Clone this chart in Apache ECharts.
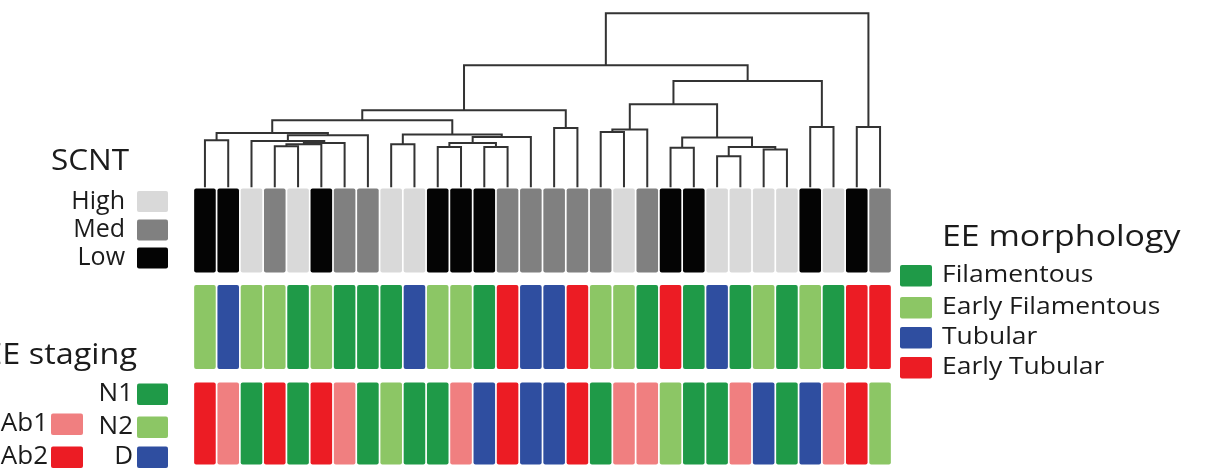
<!DOCTYPE html>
<html>
<head>
<meta charset="utf-8">
<script src="https://cdn.jsdelivr.net/npm/echarts@6/dist/echarts.min.js"></script>
<style>
html,body{margin:0;padding:0;background:#fff;}
#chart{width:1208px;height:473px;}
</style>
</head>
<body>
<div id="chart"></div>
<script>
// ---- DATA ----
const rowNames = ['SCNT', 'EE morphology', 'EE staging'];

const scnt = ['Low','Low','High','Med','High','Low','Med','Med','High','High',
  'Low','Low','Low','Med','Med','Med','Med','Med','High','Med',
  'Low','Low','High','High','High','High','Low','High','Low','Med'];

const morphology = ['Early Filamentous','Tubular','Early Filamentous','Early Filamentous','Filamentous',
  'Early Filamentous','Filamentous','Filamentous','Filamentous','Tubular',
  'Early Filamentous','Early Filamentous','Filamentous','Early Tubular','Tubular',
  'Tubular','Early Tubular','Early Filamentous','Early Filamentous','Filamentous',
  'Early Tubular','Filamentous','Tubular','Filamentous','Early Filamentous',
  'Filamentous','Early Filamentous','Filamentous','Early Tubular','Early Tubular'];

const staging = ['Ab2','Ab1','N1','Ab2','N1','Ab2','Ab1','N1','N2','N1',
  'N1','Ab1','D','Ab2','D','D','Ab2','N1','Ab1','Ab1',
  'N2','N1','N1','Ab1','D','N1','D','Ab1','Ab2','N2'];

// Hierarchical clustering merges: [childA, childB, height]; leaves 0..29, merge k -> node id 30+k
const merges = [
  [3, 4, 23.6],    // 30
  [30, 5, 24.7],   // 31
  [31, 6, 25.5],   // 32
  [2, 32, 26.6],   // 33
  [33, 7, 29.9],   // 34
  [0, 1, 27.0],    // 35
  [35, 34, 31.2],  // 36
  [8, 9, 24.7],    // 37
  [10, 11, 23.2],  // 38
  [12, 13, 23.2],  // 39
  [38, 39, 25.5],  // 40
  [40, 14, 28.9],  // 41
  [37, 41, 30.3],  // 42
  [36, 42, 38.5],  // 43
  [15, 16, 34.1],  // 44
  [43, 44, 44.3],  // 45
  [17, 18, 31.8],  // 46
  [46, 19, 33.2],  // 47
  [20, 21, 22.8],  // 48
  [22, 23, 17.8],  // 49
  [24, 25, 21.7],  // 50
  [49, 50, 23.2],  // 51
  [48, 51, 28.6],  // 52
  [47, 52, 47.7],  // 53
  [26, 27, 34.7],  // 54
  [53, 54, 61.1],  // 55
  [45, 55, 70.1],  // 56
  [28, 29, 34.7],  // 57
  [56, 57, 100]    // 58
];

const scntLevels = ['High', 'Med', 'Low'];
const morphLevels = ['Filamentous', 'Early Filamentous', 'Tubular', 'Early Tubular'];
const stagingRight = ['N1', 'N2', 'D'];
const stagingLeft = ['Ab1', 'Ab2'];

// ---- STYLE ----
const scntColors = { High: '#d9d9d9', Med: '#808080', Low: '#040404' };
const morphColors = { 'Filamentous': '#1f9a48', 'Early Filamentous': '#8cc665', 'Tubular': '#2f4ea0', 'Early Tubular': '#ec1c24' };
const stagingColors = { N1: '#1f9a48', N2: '#8cc665', D: '#2f4ea0', Ab1: '#f07f80', Ab2: '#ec1c24' };
const FONT = '"Open Sans", sans-serif';
const TXT = '#1b1b1b';

// ---- BUILD ----
const nLeaves = scnt.length;
const nodeX = [], nodeH = [];
for (let i = 0; i < nLeaves; i++) { nodeX[i] = i + 0.5; nodeH[i] = 0; }
const dendroData = merges.map((m, k) => {
  const [a, b, h] = m;
  const id = nLeaves + k;
  nodeX[id] = (nodeX[a] + nodeX[b]) / 2;
  nodeH[id] = h;
  return [nodeX[a], nodeH[a], nodeX[b], nodeH[b], h];
});

const cellData = [];
[[scnt, scntColors], [morphology, morphColors], [staging, stagingColors]].forEach((pair, r) => {
  pair[0].forEach((v, i) => {
    cellData.push({ value: [i, r, v], itemStyle: { color: pair[1][v] } });
  });
});

function rect(x, y, w, h, color) {
  return { type: 'rect', shape: { x: x, y: y, width: w, height: h, r: 2 }, style: { fill: color } };
}
function text(str, x, y, size, align, sx) {
  return { type: 'text', x: x, y: y, scaleX: sx || 1, originX: 0,
    style: { text: str, font: size + 'px ' + FONT, fill: TXT, textAlign: align, textVerticalAlign: 'middle' } };
}

const graphics = [];
// SCNT legend
graphics.push(text('SCNT', 90, 161, 30, 'center', 1.05));
const scntY = [191, 219.5, 247.5];
scntLevels.forEach((lv, k) => {
  graphics.push(rect(137, scntY[k], 31, 21, scntColors[lv]));
  graphics.push(text(lv, 125, scntY[k] + 10.5, 25, 'right'));
});
// EE staging legend
graphics.push(text('EE staging', 137, 355, 30, 'right', 1.08));
const stR = [383.5, 416.5, 446.5];
stagingRight.forEach((lv, k) => {
  graphics.push(rect(137, stR[k], 31, 21.5, stagingColors[lv]));
  graphics.push(text(lv, 133, stR[k] + 10.5, 26, 'right'));
});
const stL = [413.5, 446.5];
stagingLeft.forEach((lv, k) => {
  graphics.push(rect(51, stL[k], 32, 21.5, stagingColors[lv]));
  graphics.push(text(lv, 48, stL[k] + 10.5, 26, 'right'));
});
// EE morphology legend
graphics.push(text('EE morphology', 942, 237, 30, 'left', 1.13));
const moY = [265, 297, 327, 357];
morphLevels.forEach((lv, k) => {
  graphics.push(rect(900, moY[k], 32, 21.5, morphColors[lv]));
  graphics.push(text(lv, 942, moY[k] + 10.5, 23, 'left', 1.15));
});

const chart = echarts.init(document.getElementById('chart'), null, { renderer: 'canvas' });
chart.setOption({
  animation: false,
  backgroundColor: '#ffffff',
  grid: [
    { left: 193.3, top: 13.3, width: 698.4, height: 174 },
    { left: 193.3, top: 182.25, width: 698.4, height: 289.5 }
  ],
  xAxis: [
    { gridIndex: 0, type: 'value', min: 0, max: nLeaves, show: false },
    { gridIndex: 1, type: 'value', min: 0, max: nLeaves, show: false }
  ],
  yAxis: [
    { gridIndex: 0, type: 'value', min: 0, max: 100, show: false },
    { gridIndex: 1, type: 'category', data: rowNames, inverse: true, show: false }
  ],
  series: [
    {
      type: 'custom', xAxisIndex: 0, yAxisIndex: 0, clip: false,
      encode: { x: [0, 2], y: [1, 3, 4] },
      data: dendroData,
      renderItem: function (params, api) {
        const xa = api.value(0), ha = api.value(1), xb = api.value(2), hb = api.value(3), h = api.value(4);
        const pts = [api.coord([xa, ha]), api.coord([xa, h]), api.coord([xb, h]), api.coord([xb, hb])];
        return { type: 'polyline', shape: { points: pts }, style: { stroke: '#333333', lineWidth: 2, fill: null } };
      }
    },
    {
      type: 'custom', xAxisIndex: 1, yAxisIndex: 1, clip: false,
      encode: { x: 0, y: 1 },
      data: cellData,
      renderItem: function (params, api) {
        const i = api.value(0), r = api.value(1);
        const p = api.coord([i, r]);
        const w = api.size([1, 0])[0];
        const hgt = r === 2 ? 82 : 84;
        return {
          type: 'rect',
          shape: { x: p[0] + 0.85, y: p[1] - hgt / 2, width: w - 1.7, height: hgt, r: 2 },
          style: { fill: api.visual('color') }
        };
      }
    }
  ],
  graphic: graphics
});
</script>
</body>
</html>
